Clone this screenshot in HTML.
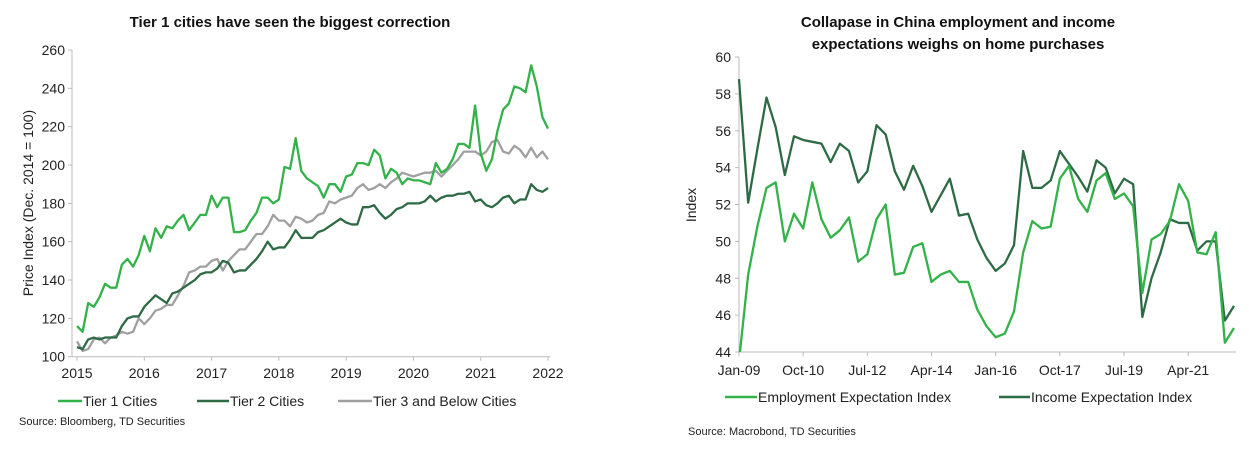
<!DOCTYPE html>
<html><head><meta charset="utf-8"><style>
body{margin:0;background:#fff;width:1249px;height:452px;overflow:hidden;font-family:"Liberation Sans",Arial,sans-serif}
svg text{font-family:"Liberation Sans",Arial,sans-serif}
</style></head><body>
<svg id="s" width="1249" height="452">
<text x="290" y="27" text-anchor="middle" font-size="15" font-weight="bold" fill="#111">Tier 1 cities have seen the biggest correction</text>
<text transform="translate(33,203) rotate(-90)" text-anchor="middle" font-size="14" fill="#222">Price Index (Dec. 2014 = 100)</text>
<text x="958" y="27" text-anchor="middle" font-size="15" font-weight="bold" fill="#111">Collapase in China employment and income</text>
<text x="958" y="49" text-anchor="middle" font-size="15" font-weight="bold" fill="#111">expectations weighs on home purchases</text>
<text transform="translate(696,205) rotate(-90)" text-anchor="middle" font-size="14" fill="#222">Index</text>
<g id="L"></g><g id="R"></g>
<g>
<line x1="58" y1="401" x2="82" y2="401" stroke="#33b249" stroke-width="2.5"/>
<text x="83" y="406" font-size="14" fill="#222">Tier 1 Cities</text>
<line x1="197" y1="401" x2="229" y2="401" stroke="#2e6b45" stroke-width="2.5"/>
<text x="230" y="406" font-size="14" fill="#222">Tier 2 Cities</text>
<line x1="338" y1="401" x2="372" y2="401" stroke="#a0a0a0" stroke-width="2.5"/>
<text x="373" y="406" font-size="14" fill="#222">Tier 3 and Below Cities</text>
</g>
<text x="19" y="425" font-size="11" fill="#222">Source: Bloomberg, TD Securities</text>
<g>
<line x1="725" y1="397" x2="757" y2="397" stroke="#33b249" stroke-width="2.5"/>
<text x="758" y="402" font-size="14" fill="#222">Employment Expectation Index</text>
<line x1="999" y1="397" x2="1030" y2="397" stroke="#2e6b45" stroke-width="2.5"/>
<text x="1031" y="402" font-size="14" fill="#222">Income Expectation Index</text>
</g>
<text x="688" y="435" font-size="11" fill="#222">Source: Macrobond, TD Securities</text>
</svg>
<script>
const tier1=[116,113,128,126,131,138,136,136,148,151,147,153,163,155,167,162,168,167,171,174,166,170,174,174,184,178,183,183,165,165,166,171,175,183,183,180,182,199,198,214,197,193,191,189,183,190,190,186,194,195,201,201,200,208,205,193,198,196,190,193,192,192,191,190,201,196,198,203,211,211,209,231,206,197,203,218,229,232,241,240,238,252,241,225,219];
const tier2=[105,104,109,110,109,110,110,110,116,120,121,121,126,129,132,130,128,133,134,136,138,140,143,144,144,146,150,149,144,145,145,148,151,155,160,156,157,157,161,166,162,162,162,165,166,168,170,172,170,169,169,178,178,179,175,172,174,177,178,180,180,180,181,184,181,183,184,184,185,185,186,181,182,179,178,180,183,184,180,182,182,190,187,186,188];
const tier3=[108,103,104,109,110,107,110,111,113,112,113,120,117,120,124,125,127,127,132,137,144,145,147,147,150,151,145,150,153,156,156,160,164,164,168,174,171,171,168,173,172,170,171,174,175,181,180,182,183,184,188,190,187,188,190,188,191,193,196,195,194,195,196,196,197,194,197,200,203,207,207,207,205,207,212,213,207,206,210,208,204,209,204,207,203];
const leftYTicks=[100,120,140,160,180,200,220,240,260];
const leftXTicks=["2015","2016","2017","2018","2019","2020","2021","2022"];
const employment=[43.5,48.2,50.8,52.9,53.2,50.0,51.5,50.7,53.2,51.2,50.2,50.6,51.3,48.9,49.3,51.2,52.0,48.2,48.3,49.7,49.9,47.8,48.2,48.4,47.8,47.8,46.3,45.4,44.8,45.0,46.2,49.4,51.1,50.7,50.8,53.4,54.1,52.3,51.6,53.3,53.7,52.3,52.6,51.9,47.2,50.1,50.4,51.1,53.1,52.2,49.4,49.3,50.5,44.5,45.3];
const income=[58.8,52.1,55.0,57.8,56.2,53.6,55.7,55.5,55.4,55.3,54.3,55.3,54.9,53.2,53.8,56.3,55.8,53.8,52.8,54.1,53.0,51.6,52.5,53.4,51.4,51.5,50.1,49.1,48.4,48.8,49.8,54.9,52.9,52.9,53.3,54.9,54.2,53.5,52.7,54.4,54.0,52.6,53.4,53.1,45.9,48.0,49.4,51.2,51.0,51.0,49.5,50.0,50.0,45.7,46.5];
const rightYTicks=[44,46,48,50,52,54,56,58,60];
const rightXTicks=["Jan-09","Oct-10","Jul-12","Apr-14","Jan-16","Oct-17","Jul-19","Apr-21"];
const NS="http://www.w3.org/2000/svg";
function mk(p,t,a){const e=document.createElementNS(NS,t);for(const k in a)e.setAttribute(k,a[k]);p.appendChild(e);return e;}
// left
const L=document.getElementById('L');
const lx=m=>77+m*(471/84), ly=v=>356.7-(v-100)*(306.7/160);
mk(L,'line',{x1:72,y1:ly(260),x2:72,y2:ly(100),stroke:'#bbb'});
mk(L,'line',{x1:72,y1:ly(100),x2:550,y2:ly(100),stroke:'#bbb'});
leftYTicks.forEach(v=>{mk(L,'line',{x1:68,y1:ly(v),x2:72,y2:ly(v),stroke:'#bbb'});
const t=mk(L,'text',{x:65,y:ly(v)+5,'text-anchor':'end','font-size':14,fill:'#222'});t.textContent=v;

});
leftXTicks.forEach((s,i)=>{const x=lx(i*12);mk(L,'line',{x1:x,y1:ly(100),x2:x,y2:ly(100)+4,stroke:'#bbb'});
const t=mk(L,'text',{x:x,y:378,'text-anchor':'middle','font-size':14,fill:'#222'});t.textContent=s;

});
[[tier3,'#a0a0a0','tier3-line'],[tier2,'#2e6b45','tier2-line'],[tier1,'#33b249','tier1-line']].forEach(([d,c,n])=>{
const p=mk(L,'polyline',{points:d.map((v,i)=>lx(i)+','+ly(v)).join(' '),fill:'none',stroke:c,'stroke-width':2.3,'stroke-linejoin':'round'});

});
// right
const R=document.getElementById('R');
const rx=q=>739+q*(495/54), ry=v=>352-(v-44)*(295/16);
mk(R,'line',{x1:739,y1:ry(60),x2:739,y2:ry(44),stroke:'#bbb'});
mk(R,'line',{x1:739,y1:ry(44),x2:1236,y2:ry(44),stroke:'#bbb'});
rightYTicks.forEach(v=>{mk(R,'line',{x1:735,y1:ry(v),x2:739,y2:ry(v),stroke:'#bbb'});
const t=mk(R,'text',{x:731,y:ry(v)+5,'text-anchor':'end','font-size':14,fill:'#222'});t.textContent=v;

});
rightXTicks.forEach((s,i)=>{const x=rx(i*7);mk(R,'line',{x1:x,y1:352,x2:x,y2:356,stroke:'#bbb'});
const t=mk(R,'text',{x:x,y:375,'text-anchor':'middle','font-size':14,fill:'#222'});t.textContent=s;

});
const cp=mk(R,'clipPath',{id:'rc'});mk(cp,'rect',{x:735,y:40,width:510,height:312});
[[income,'#2e6b45','income-line'],[employment,'#33b249','employment-line']].forEach(([d,c,n])=>{
const p=mk(R,'polyline',{points:d.map((v,i)=>rx(i)+','+ry(v)).join(' '),fill:'none',stroke:c,'stroke-width':2.3,'stroke-linejoin':'round','clip-path':'url(#rc)'});

});
</script>
</body></html>
